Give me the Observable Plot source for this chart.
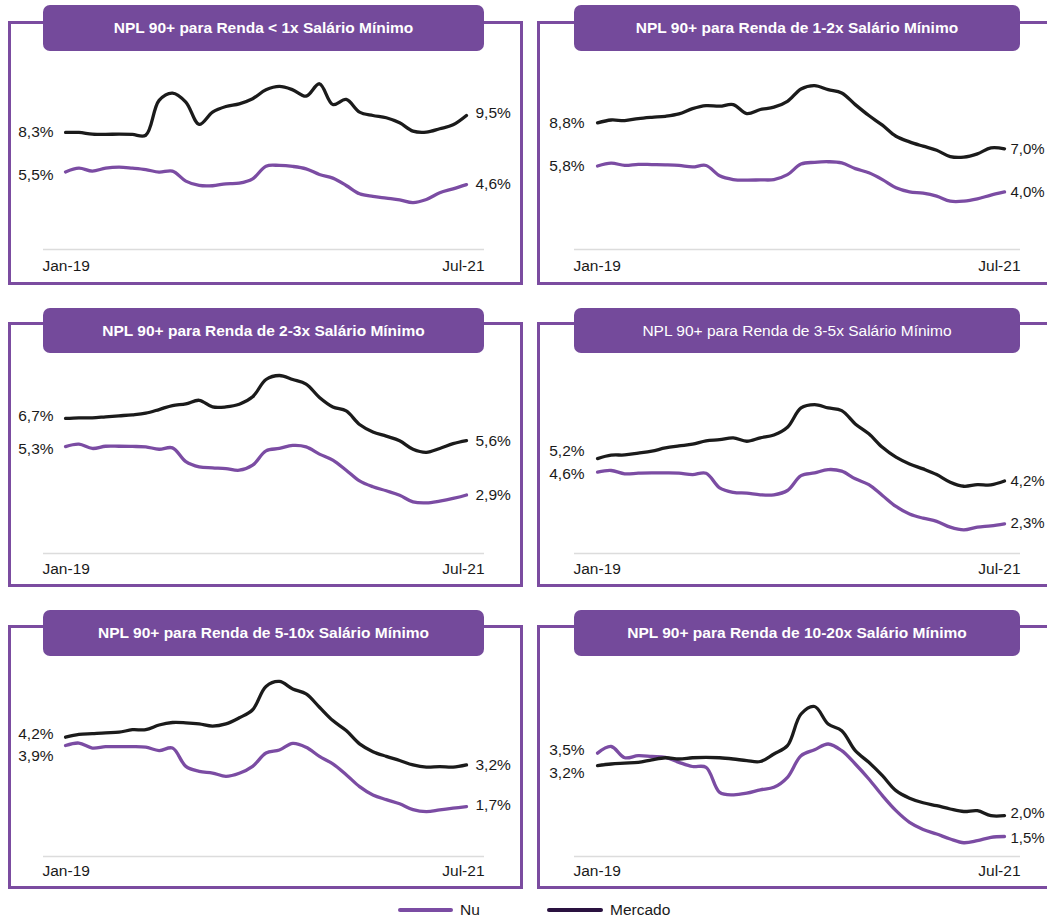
<!DOCTYPE html>
<html><head><meta charset="utf-8">
<script src="https://cdn.jsdelivr.net/npm/d3@7"></script>
<script src="https://cdn.jsdelivr.net/npm/@observablehq/plot@0.6"></script>
<style>
html,body{margin:0;padding:0;background:#fff;overflow:hidden;}
#root{position:relative;width:1047px;height:921px;font-family:"Liberation Sans",Arial,sans-serif;color:#1a1a1a;}
.frame{position:absolute;border:3px solid #7b4ca0;box-sizing:border-box;}
.title{position:absolute;background:#744a9b;color:#fff;border-radius:7px;display:flex;align-items:center;justify-content:center;font-size:15.5px;font-weight:bold;z-index:3;white-space:nowrap;}
.title.regular{font-weight:normal;}
.plot{position:absolute;z-index:2;}
.legend{position:absolute;font-size:15.5px;line-height:20px;}
.swatch{position:absolute;height:4px;border-radius:2px;}
</style></head><body><div id="root"></div><script>
// ---------- data ----------
const titles = [
  "NPL 90+ para Renda < 1x Salário Mínimo",
  "NPL 90+ para Renda de 1-2x Salário Mínimo",
  "NPL 90+ para Renda de 2-3x Salário Mínimo",
  "NPL 90+ para Renda de 3-5x Salário Mínimo",
  "NPL 90+ para Renda de 5-10x Salário Mínimo",
  "NPL 90+ para Renda de 10-20x Salário Mínimo"
];
const seriesNames = ["Nu", "Mercado"];
const months = d3.utcMonth.range(new Date(Date.UTC(2019, 0, 1)), new Date(Date.UTC(2021, 7, 1))); // Jan-19 .. Jul-21
const tickLabels = ["Jan-19", "Jul-21"];

const nu1 = [5.5, 5.77, 5.56, 5.77, 5.84, 5.77, 5.67, 5.48, 5.56, 4.85, 4.54, 4.52, 4.66, 4.7, 5.01, 5.91, 5.96, 5.89, 5.72, 5.32, 5.06, 4.54, 3.95, 3.76, 3.64, 3.52, 3.33, 3.55, 4.02, 4.3, 4.6];
const mercado1 = [8.3, 8.3, 8.18, 8.16, 8.18, 8.16, 8.1, 10.57, 11.09, 10.45, 8.87, 9.74, 10.14, 10.33, 10.69, 11.32, 11.56, 11.32, 10.87, 11.75, 10.28, 10.64, 9.74, 9.5, 9.34, 8.98, 8.39, 8.32, 8.56, 8.84, 9.5];
const nu2 = [5.8, 6.0, 5.85, 5.92, 5.9, 5.88, 5.84, 5.74, 5.84, 5.12, 4.86, 4.82, 4.84, 4.86, 5.2, 5.94, 6.06, 6.1, 6.02, 5.62, 5.33, 4.86, 4.29, 4.01, 3.92, 3.71, 3.36, 3.36, 3.52, 3.78, 4.0];
const mercado2 = [8.8, 9.0, 8.96, 9.1, 9.19, 9.26, 9.42, 9.79, 10.0, 9.96, 10.07, 9.45, 9.73, 9.89, 10.3, 11.16, 11.39, 11.11, 10.88, 10.07, 9.31, 8.64, 7.87, 7.48, 7.18, 6.9, 6.46, 6.42, 6.65, 7.06, 7.0];
const nu3 = [5.3, 5.42, 5.21, 5.32, 5.32, 5.31, 5.29, 5.17, 5.24, 4.56, 4.3, 4.25, 4.21, 4.13, 4.38, 5.09, 5.21, 5.36, 5.29, 4.93, 4.63, 4.13, 3.6, 3.31, 3.11, 2.89, 2.56, 2.51, 2.6, 2.73, 2.9];
const mercado3 = [6.7, 6.73, 6.73, 6.78, 6.83, 6.88, 6.96, 7.14, 7.34, 7.42, 7.6, 7.27, 7.27, 7.4, 7.77, 8.63, 8.83, 8.63, 8.4, 7.74, 7.27, 7.07, 6.4, 6.03, 5.82, 5.59, 5.17, 5.02, 5.21, 5.45, 5.6];
const nu4 = [4.6, 4.67, 4.52, 4.55, 4.56, 4.56, 4.55, 4.49, 4.55, 3.9, 3.7, 3.66, 3.59, 3.59, 3.78, 4.44, 4.56, 4.71, 4.64, 4.3, 4.04, 3.56, 3.07, 2.74, 2.55, 2.41, 2.15, 2.03, 2.15, 2.21, 2.3];
const mercado4 = [5.2, 5.35, 5.36, 5.44, 5.53, 5.67, 5.76, 5.84, 5.99, 6.04, 6.12, 5.97, 6.12, 6.25, 6.59, 7.45, 7.6, 7.45, 7.33, 6.74, 6.3, 5.7, 5.26, 4.96, 4.74, 4.49, 4.15, 3.97, 4.04, 4.03, 4.2];
const nu5 = [3.9, 3.99, 3.81, 3.86, 3.86, 3.86, 3.84, 3.72, 3.81, 3.15, 2.97, 2.91, 2.79, 2.9, 3.15, 3.63, 3.74, 3.98, 3.84, 3.51, 3.24, 2.85, 2.42, 2.12, 1.95, 1.8, 1.59, 1.52, 1.58, 1.64, 1.7];
const mercado5 = [4.2, 4.3, 4.33, 4.36, 4.38, 4.47, 4.47, 4.64, 4.73, 4.72, 4.68, 4.6, 4.68, 4.9, 5.19, 6.03, 6.21, 5.94, 5.76, 5.28, 4.8, 4.44, 3.96, 3.68, 3.51, 3.36, 3.2, 3.12, 3.14, 3.12, 3.2];
const nu6 = [3.5, 3.66, 3.39, 3.44, 3.42, 3.4, 3.28, 3.18, 3.16, 2.56, 2.5, 2.54, 2.62, 2.68, 2.92, 3.44, 3.58, 3.72, 3.56, 3.24, 2.88, 2.48, 2.12, 1.84, 1.67, 1.56, 1.44, 1.35, 1.4, 1.48, 1.5];
const mercado6 = [3.2, 3.24, 3.26, 3.28, 3.34, 3.39, 3.36, 3.39, 3.4, 3.39, 3.36, 3.32, 3.3, 3.48, 3.68, 4.44, 4.62, 4.2, 4.04, 3.56, 3.28, 2.96, 2.6, 2.42, 2.31, 2.24, 2.16, 2.1, 2.12, 2.0, 2.0];

const nuSeries = [nu1, nu2, nu3, nu4, nu5, nu6];
const mercadoSeries = [mercado1, mercado2, mercado3, mercado4, mercado5, mercado6];

// ---------- layout / style ----------
const colors = {Nu: "#7b4ca3", Mercado: "#1b1b1b"};
const legendColors = {Nu: "#7b4ca3", Mercado: "#2a1240"};
const cols = [
  {svgLeft: 0, width: 530, plotL: 43, plotR: 484, xDomain: [-1.65, 31.35], frameL: 9, frameR: 521, dxStart: -12, dxEnd: 9, endSize: 15.5},
  {svgLeft: 530, width: 517, plotL: 574, plotR: 1020, xDomain: [-1.7, 31.18], frameL: 538, frameR: 1080, dxStart: -13, dxEnd: 6, endSize: 15}
];
const rows = [
  {titleTop: 5, titleBottom: 51, frameTop: 22, frameBottom: 283.5, plotTop: 49, baseline: 249, labelDy: 16.5},
  {titleTop: 308, titleBottom: 353, frameTop: 323.5, frameBottom: 585, plotTop: 353, baseline: 553, labelDy: 15.5},
  {titleTop: 610, titleBottom: 656, frameTop: 626, frameBottom: 887, plotTop: 656, baseline: 856, labelDy: 14.5}
];
const yDomains = [[0, 14.18], [0, 13.9], [0, 9.92], [0.98, 9.87], [-0.1, 7.11], [1.02, 5.82]];
// label vertical nudges: [start Nu, start Mercado, end Nu, end Mercado]
const labelNudge = [[3, 0, -1, -2], [0, 0, 0, 0], [2, -2, 0, 0], [2, -8, -1, 0], [10, -3, -2, 0], [-3, 7, 2, -2]];
const regularTitle = [false, false, false, true, false, false];

const fmt = v => v.toFixed(1).replace(".", ",") + "%";
const root = document.getElementById("root");

titles.forEach((title, p) => {
  const col = cols[p % 2], row = rows[Math.floor(p / 2)];
  // frame
  const fr = document.createElement("div");
  fr.className = "frame";
  Object.assign(fr.style, {
    left: (col.frameL - 1.5) + "px", top: (row.frameTop - 1.5) + "px",
    width: (col.frameR - col.frameL + 3) + "px", height: (row.frameBottom - row.frameTop + 3) + "px"
  });
  root.appendChild(fr);
  // title
  const tb = document.createElement("div");
  tb.className = "title" + (regularTitle[p] ? " regular" : "");
  tb.textContent = title;
  Object.assign(tb.style, {
    left: col.plotL + "px", top: row.titleTop + "px",
    width: (col.plotR - col.plotL) + "px", height: (row.titleBottom - row.titleTop) + "px"
  });
  root.appendChild(tb);

  // data table
  const data = [];
  seriesNames.forEach(s => {
    const vals = s === "Nu" ? nuSeries[p] : mercadoSeries[p];
    vals.forEach((v, i) => data.push({series: s, i, month: months[i], v}));
  });
  const nu = nuSeries[p], me = mercadoSeries[p];
  const last = nu.length - 1;
  const nud = labelNudge[p];
  const labelMark = (i, v, anchor, dx, dy, size) =>
    Plot.text([{i, v}], {x: "i", y: "v", text: d => fmt(d.v), textAnchor: anchor, dx, dy, fill: "#1a1a1a", fontSize: size});

  const svgTop = row.plotTop - 12;
  const svgBottom = row.baseline + 30;
  const chart = Plot.plot({
    width: col.width,
    height: svgBottom - svgTop,
    marginLeft: col.plotL - col.svgLeft,
    marginRight: col.svgLeft + col.width - col.plotR,
    marginTop: row.plotTop - svgTop,
    marginBottom: svgBottom - row.baseline,
    x: {domain: col.xDomain, axis: null},
    y: {domain: yDomains[p], axis: null},
    color: {domain: seriesNames, range: seriesNames.map(s => colors[s])},
    style: {fontFamily: '"Liberation Sans", Arial, sans-serif', fontSize: "15.5px", background: "transparent", overflow: "visible", color: "#1a1a1a"},
    marks: [
      Plot.ruleY([yDomains[p][0]], {stroke: "#dcdcdc", strokeWidth: 1.5}),
      Plot.line(data.filter(d => d.series === "Nu"), {x: "i", y: "v", stroke: "series", strokeWidth: 3.3, curve: "catmull-rom", strokeLinecap: "round", strokeLinejoin: "round"}),
      Plot.line(data.filter(d => d.series === "Mercado"), {x: "i", y: "v", stroke: "series", strokeWidth: 3.3, curve: "catmull-rom", strokeLinecap: "round", strokeLinejoin: "round"}),
      labelMark(0, nu[0], "end", col.dxStart, nud[0], 15.5),
      labelMark(0, me[0], "end", col.dxStart, nud[1], 15.5),
      labelMark(last, nu[last], "start", col.dxEnd, nud[2], col.endSize),
      labelMark(last, me[last], "start", col.dxEnd, nud[3], col.endSize),
      Plot.text([tickLabels[0]], {frameAnchor: "bottom-left", text: d => d, textAnchor: "start", lineAnchor: "middle", dy: row.labelDy, dx: -1, fill: "#1a1a1a", fontSize: 15.5}),
      Plot.text([tickLabels[1]], {frameAnchor: "bottom-right", text: d => d, textAnchor: "end", lineAnchor: "middle", dy: row.labelDy, fill: "#1a1a1a", fontSize: 15.5})
    ]
  });
  chart.classList.add("plot");
  chart.style.left = col.svgLeft + "px";
  chart.style.top = svgTop + "px";
  root.appendChild(chart);
});

// ---------- legend ----------
const legendItems = [
  {name: seriesNames[0], x0: 398, x1: 453, tx: 460},
  {name: seriesNames[1], x0: 547, x1: 603, tx: 610}
];
legendItems.forEach(it => {
  const sw = document.createElement("div");
  sw.className = "swatch";
  Object.assign(sw.style, {left: it.x0 + "px", width: (it.x1 - it.x0) + "px", top: "908px", background: legendColors[it.name]});
  root.appendChild(sw);
  const tx = document.createElement("div");
  tx.className = "legend";
  tx.textContent = it.name;
  Object.assign(tx.style, {left: it.tx + "px", top: "900px"});
  root.appendChild(tx);
});
</script></body></html>
